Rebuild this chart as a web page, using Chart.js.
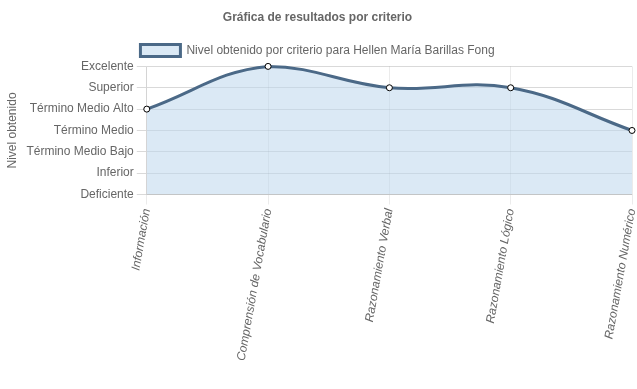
<!DOCTYPE html>
<html>
<head>
<meta charset="utf-8">
<script src="https://cdn.jsdelivr.net/npm/chart.js@4.4.0/dist/chart.umd.min.js"></script>
<style>
  html, body { margin: 0; padding: 0; background: #fff; }
  #wrap { width: 637px; height: 389px; }
</style>
</head>
<body>
<div id="wrap"><canvas id="grafico"></canvas></div>
<script>
// Datos
var criterios = ['Información', 'Comprensión de Vocabulario', 'Razonamiento Verbal', 'Razonamiento Lógico', 'Razonamiento Numérico'];
var niveles = ['Deficiente', 'Inferior', 'Término Medio Bajo', 'Término Medio', 'Término Medio Alto', 'Superior', 'Excelente'];
var resultados = [4, 6, 5, 5, 3];

Chart.defaults.font.family = "'Helvetica Neue', Helvetica, Arial, 'Liberation Sans', sans-serif";
Chart.defaults.font.size = 12;
Chart.defaults.color = '#666';

var ctx = document.getElementById('grafico').getContext('2d');
var grafico = new Chart(ctx, {
    type: 'line',
    data: {
        labels: criterios,
        datasets: [{
            label: 'Nivel obtenido por criterio para Hellen María Barillas Fong',
            data: resultados,
            fill: true,
            clip: 4,
            backgroundColor: 'rgba(190, 215, 236, 0.55)',
            borderColor: 'rgba(75, 105, 135, 1)',
            borderWidth: 3,
            tension: 0.4,
            pointRadius: 3,
            pointBackgroundColor: '#fff',
            pointBorderColor: '#000',
            pointBorderWidth: 1
        }]
    },
    options: {
        responsive: true,
        maintainAspectRatio: false,
        animation: false,
        layout: { padding: { left: 1, right: 3, top: 0, bottom: 24 } },
        plugins: {
            title: {
                display: true,
                text: 'Gráfica de resultados por criterio',
                font: { size: 12, weight: 'bold' },
                color: '#666',
                padding: { top: 10, bottom: 10 }
            },
            legend: {
                labels: {
                    boxWidth: 40,
                    boxHeight: 12,
                    color: '#666',
                    padding: 10
                }
            },
            tooltip: { enabled: false }
        },
        scales: {
            x: {
                grid: { color: 'rgba(0,0,0,0.08)', tickLength: 10 },
                afterFit: function(scale) { scale.paddingRight = 0; },
                ticks: {
                    minRotation: 80,
                    maxRotation: 80,
                    font: { style: 'italic', size: 12 },
                    color: '#666'
                }
            },
            y: {
                min: 0,
                max: 6,
                title: { display: true, text: 'Nivel obtenido', color: '#666' },
                grid: { color: 'rgba(0,0,0,0.15)', tickLength: 10 },
                ticks: {
                    stepSize: 1,
                    color: '#666',
                    callback: function(v) { return niveles[v]; }
                }
            }
        }
    }
});
</script>
</body>
</html>
